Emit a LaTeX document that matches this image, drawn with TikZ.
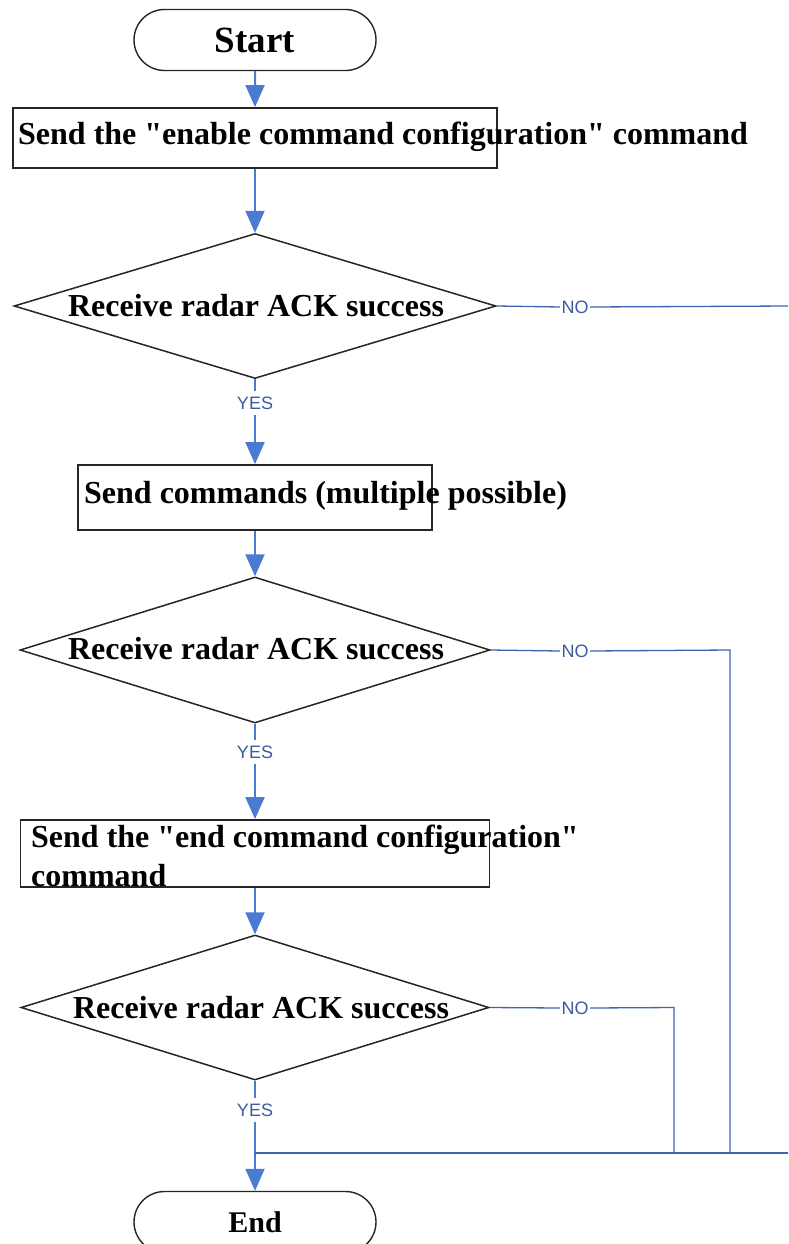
\documentclass[tikz,border=0pt]{standalone}
\usepackage{fontspec}
\setmainfont{Liberation Serif}[Ligatures=TeXOff]
\newfontfamily\lblfont{Liberation Sans}
\usetikzlibrary{shapes.geometric,shapes.misc,arrows.meta}
\definecolor{flow}{HTML}{4A7BD0}
\definecolor{noline}{HTML}{3F64AE}
\definecolor{lbl}{HTML}{3D5C9E}
\definecolor{edge}{HTML}{262626}
\begin{document}
\begin{tikzpicture}[x=1pt,y=-1pt,
  term/.style={draw=edge,line width=1.4pt,rounded rectangle,minimum width=242pt,minimum height=61pt,inner sep=0pt},
  procbox/.style={draw=edge,line width=1.8pt,rectangle,inner sep=0pt},
  decision/.style={draw=edge,line width=1.5pt,diamond,inner sep=0pt},
  txt/.style={font=\fontsize{32}{40}\selectfont\bfseries,inner sep=0pt},
  yn/.style={font=\lblfont\fontsize{18}{18}\selectfont,text=lbl,inner sep=1.5pt},
  flowarrow/.style={draw=flow,line width=2pt,-{Triangle[length=22pt,width=19pt]}},
  flowline/.style={draw=flow,line width=2pt},
  noarrow/.style={draw=noline,line width=1.3pt},
]
\useasboundingbox (0,0) rectangle (788,1244);
\clip (0,0) rectangle (788,1244);
\fill[white] (0,0) rectangle (788,1244);

% terminals
\node[term,font=\fontsize{37}{40}\selectfont\bfseries] (start) at (255,40) {Start};
\node[term,font=\fontsize{30}{34}\selectfont\bfseries] (end) at (255,1222) {End};

% process boxes
\node[procbox,minimum width=484pt,minimum height=60pt] (b1) at (255,138) {};
\node[txt,anchor=base west] (b1t) at (18,144) {Send the "enable command configuration" command};

\node[procbox,minimum width=354pt,minimum height=65pt] (b2) at (255,497.5) {};
\node[txt,anchor=base west] (b2t) at (84,503) {Send commands (multiple possible)};

\node[procbox,minimum width=469pt,minimum height=67pt] (b3) at (255,853.5) {};
\node[txt,anchor=base west] (b3t1) at (31,847) {Send the "end command configuration"};
\node[txt,anchor=base west] (b3t2) at (31,886) {command};

% decisions
\node[decision,minimum width=482pt,minimum height=145pt] (d1) at (255,306) {};
\node[txt,anchor=base] (d1t) at (256,316) {Receive radar ACK success};
\node[decision,minimum width=470pt,minimum height=146pt] (d2) at (255,650) {};
\node[txt,anchor=base] (d2t) at (256,659) {Receive radar ACK success};
\node[decision,minimum width=468pt,minimum height=145pt] (d3) at (255,1007.5) {};
\node[txt,anchor=base] (d3t) at (261,1018) {Receive radar ACK success};

% labels
\node[yn,inner sep=5pt] (yes1) at (255,403) {YES};
\node[yn,inner sep=5pt] (yes2) at (255,752) {YES};
\node[yn,inner sep=5pt] (yes3) at (255,1110) {YES};
\node[yn] (no1) at (575,307) {NO};
\node[yn] (no2) at (575,651) {NO};
\node[yn] (no3) at (575,1008) {NO};

% coordinates for free ends / bends
\coordinate (r1) at (790,306);
\coordinate (c2) at (730,650);
\coordinate (c2b) at (730,1153);
\coordinate (c3) at (674,1007.5);
\coordinate (c3b) at (674,1153);
\coordinate (j) at (255,1153);
\coordinate (r4) at (790,1153);

% main flow
\draw[flowarrow] (start) -- (b1);
\draw[flowarrow] (b1) -- (d1);
\draw[flowline] (d1.south) -- (yes1.north);
\draw[flowarrow] (yes1.south) -- (b2.north);
\draw[flowarrow] (b2) -- (d2);
\draw[flowline] (d2.south) -- (yes2.north);
\draw[flowarrow] (yes2.south) -- (b3.north);
\draw[flowarrow] (b3) -- (d3);
\draw[flowline] (d3.south) -- (yes3.north);
\draw[flowarrow] (yes3.south) -- (end.north);

% NO branches
\draw[noarrow] (d1.east) -- (no1.west);
\draw[noarrow] (no1.east) -- (r1);
\draw[noarrow] (d2.east) -- (no2.west);
\draw[noarrow] (no2.east) -- (c2) -- (c2b);
\draw[noarrow] (d3.east) -- (no3.west);
\draw[noarrow] (no3.east) -- (c3) -- (c3b);
\draw[noarrow,line width=2.6pt] (j) -- (r4);
\end{tikzpicture}
\end{document}
